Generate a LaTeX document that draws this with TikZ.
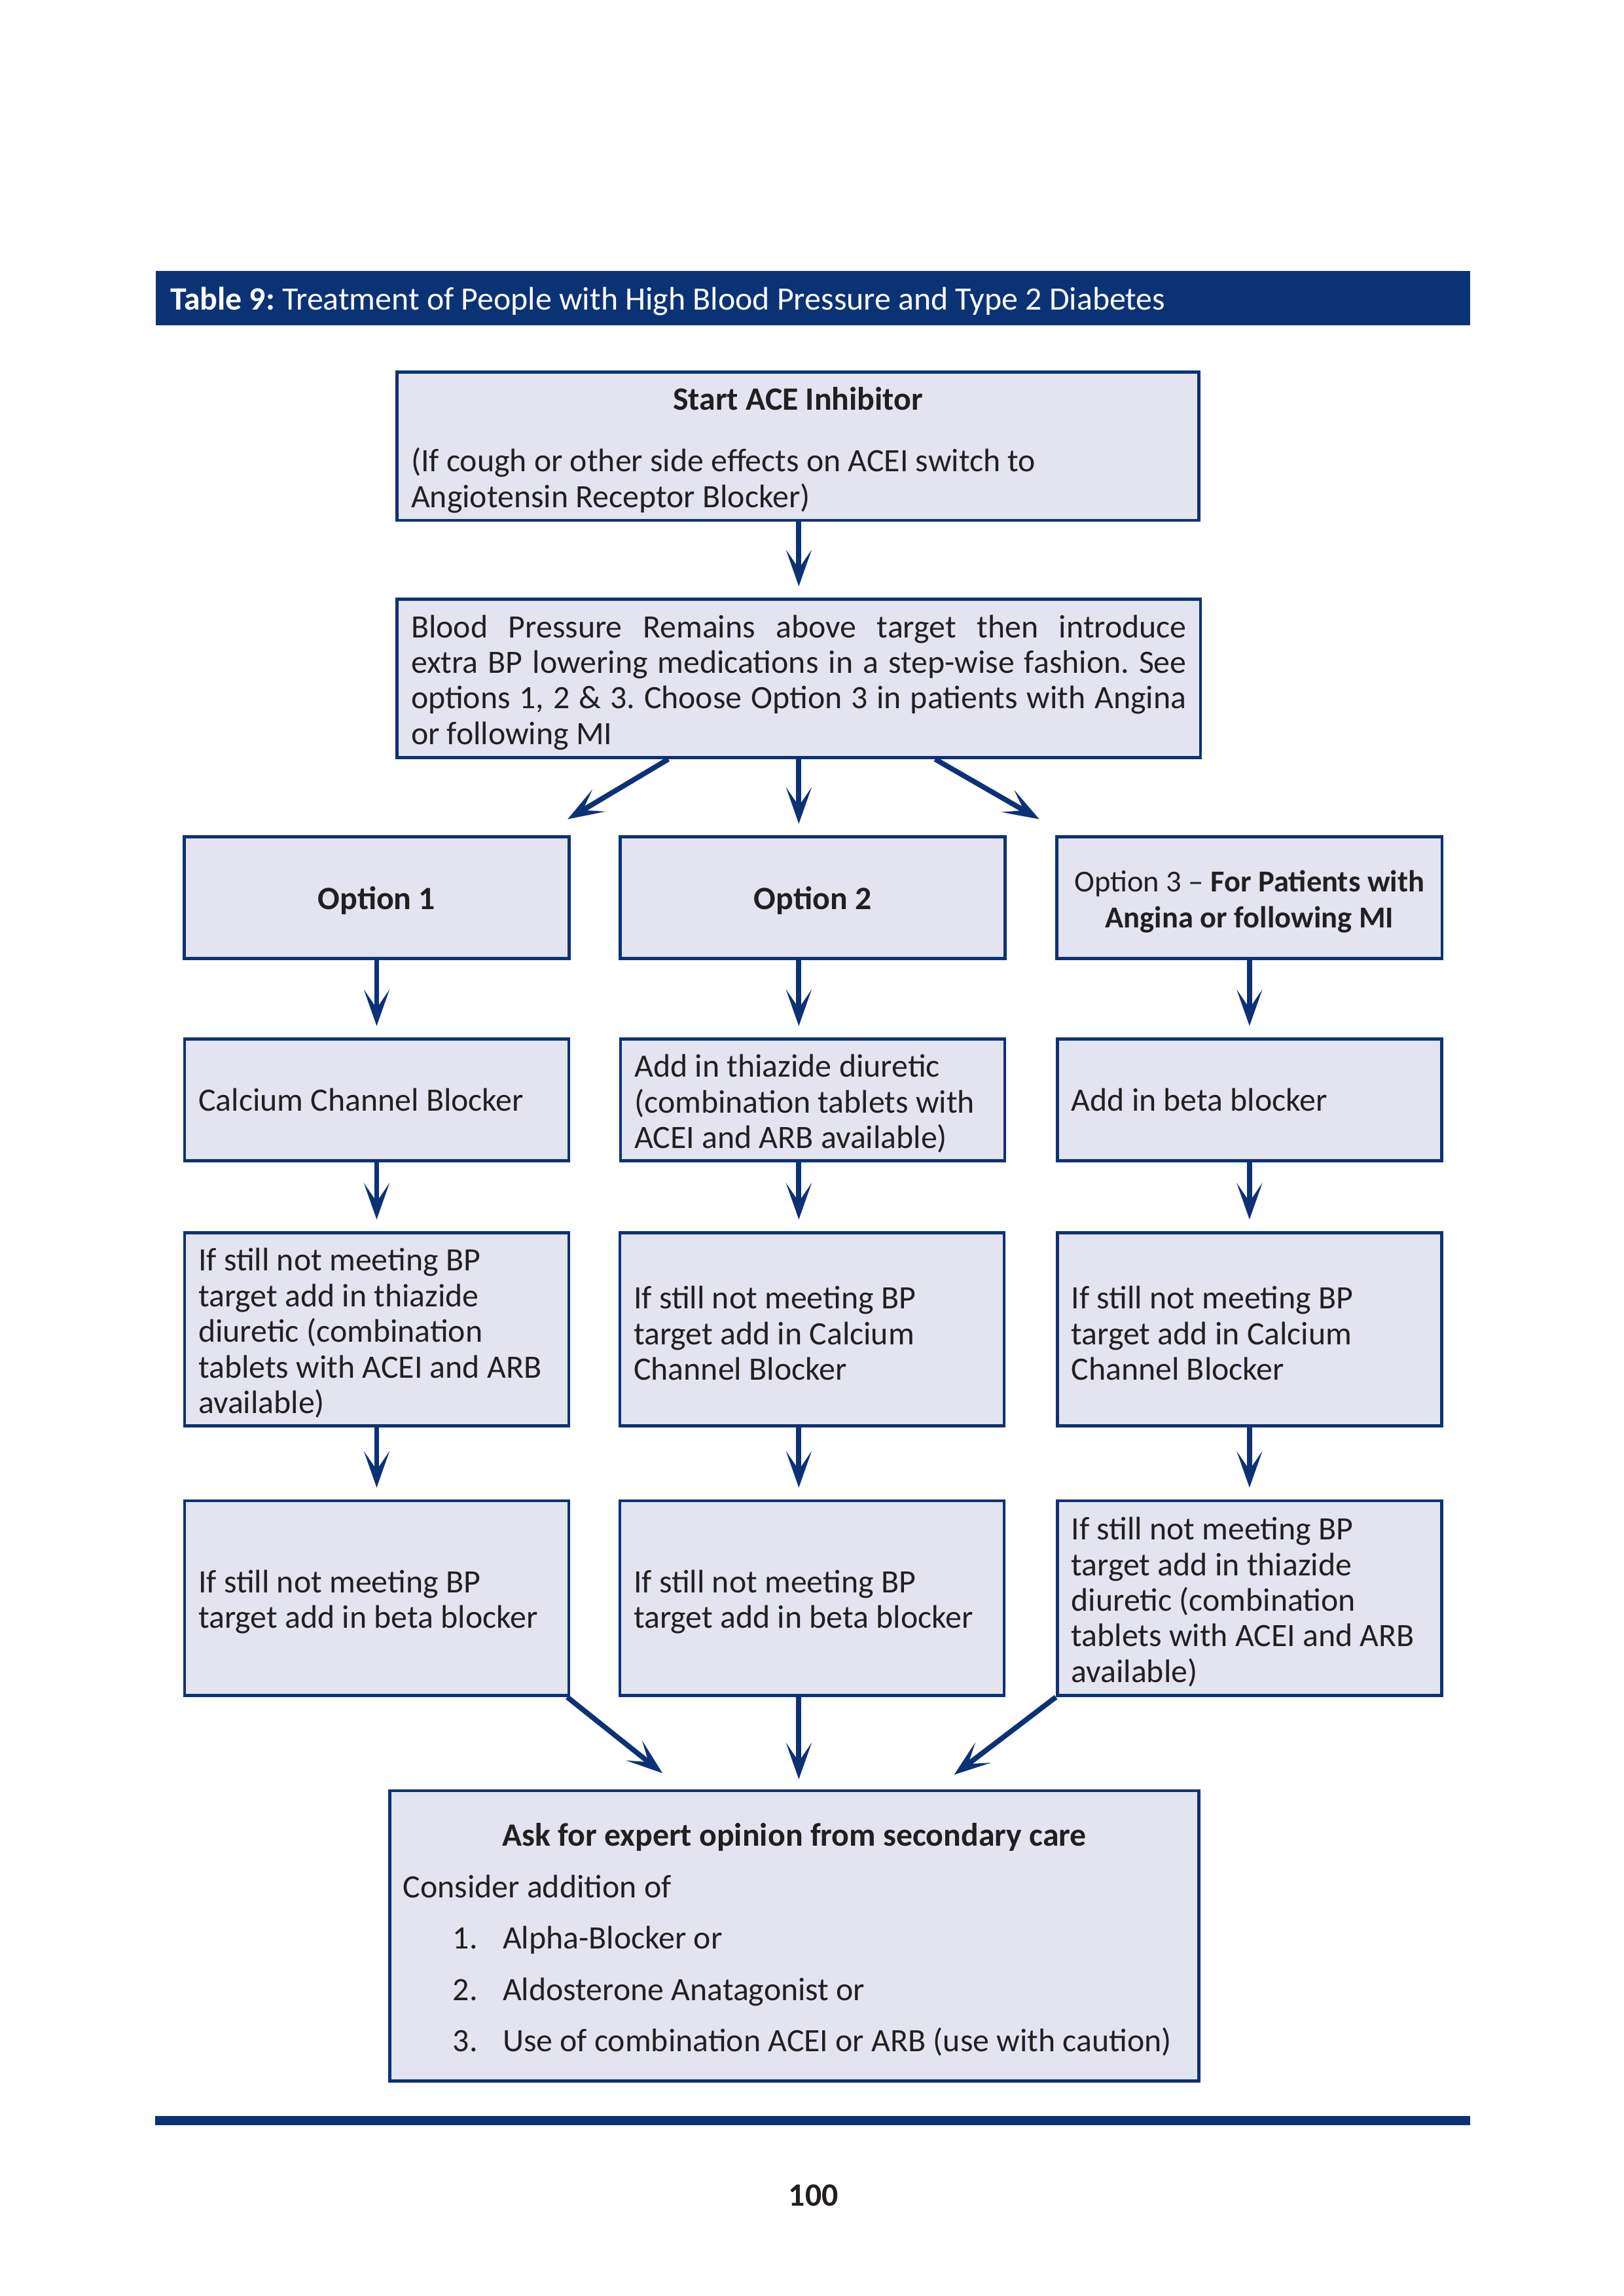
\documentclass[tikz,border=0pt]{standalone}
\usepackage{fontspec}
\setmainfont{Carlito}
\usetikzlibrary{arrows.meta,calc}
\definecolor{navy}{HTML}{0C3276}
\definecolor{boxfill}{HTML}{E3E4F0}
\definecolor{ink}{HTML}{231F20}
\setlength{\parindent}{0pt}
\frenchspacing
\newcommand{\mynatsp}{\spaceskip=0pt\xspaceskip=0pt\relax}
\newcommand{\mybxend}{\par\kern-0.1cm\relax}
\begin{document}
\begin{tikzpicture}[x=1cm,y=-1cm,
  natsp/.style={execute at begin node={\mynatsp},
    execute at end node={\mybxend}},
  box/.style={draw=navy, line width=1.1pt, fill=boxfill, text=ink, inner xsep=0.18cm, inner ysep=0pt,
    font=\fontsize{12}{13.1}\selectfont, align=left, natsp},
  colbox/.style={box, text width=4.61cm},
  optbox/.style={box, inner xsep=0.05cm, text width=4.88cm, minimum width=4.98cm, minimum height=1.574cm,
    execute at begin node={\centering}},
  arr/.style={draw=navy, line width=1.9pt, -{Stealth[length=0.47cm,width=0.33cm,inset=0.24cm]}, shorten >=0.15cm},
  darr/.style={arr, shorten >=0pt}]
\useasboundingbox (0,0) rectangle (21,29.7);
% header
\node[fill=navy, text=white, inner xsep=0.19cm, inner ysep=0pt, text width=16.62cm, minimum height=0.701cm,
  align=left, natsp, font=\fontsize{12}{13.1}\selectfont] (hdr) at (10.512,3.858)
  {\textbf{Table 9:} Treatment of People with High Blood Pressure and Type 2 Diabetes};
% top boxes
\node[box, text width=10.01cm, minimum height=1.914cm] (A) at (10.322,5.772)
  {{\centering\textbf{Start ACE Inhibitor}\par}\vspace{9.6pt}(If cough or other side effects on ACEI switch to\\Angiotensin Receptor Blocker)};
\node[box, text width=10.03cm, minimum height=2.048cm] (B) at (10.332,8.777)
  {\makebox[10.03cm][s]{Blood Pressure Remains above target then introduce}\\
   \makebox[10.03cm][s]{extra BP lowering medications in a step-wise fashion. See}\\
   \makebox[10.03cm][s]{options 1, 2 \& 3. Choose Option 3 in patients with Angina}\\
   or following MI};
% row 1
\node[optbox] (o1) at (4.872,11.612) {\textbf{Option 1}};
\node[optbox] (o2) at (10.512,11.612) {\textbf{Option 2}};
\node[optbox, font=\fontsize{11.2}{13.4}\selectfont] (o3) at (16.161,11.612)
  {\mbox{Option 3 -- \textbf{For Patients with}}\\\mbox{\textbf{Angina or following MI}}};
% row 2
\node[colbox, minimum height=1.574cm] (c1) at (4.872,14.228) {Calcium Channel Blocker};
\node[colbox, minimum height=1.574cm] (c2) at (10.512,14.228)
  {Add in thiazide diuretic\\(combination tablets with\\ACEI and ARB available)};
\node[colbox, minimum height=1.574cm] (c3) at (16.161,14.228) {Add in beta blocker};
% row 3
\node[colbox, minimum height=2.502cm] (d1) at (4.872,17.195)
  {If still not meeting BP\\target add in thiazide\\diuretic (combination\\tablets with ACEI and ARB\\available)};
\node[colbox, minimum height=2.502cm] (d2) at (10.502,17.195)
  {If still not meeting BP\\target add in Calcium\\Channel Blocker};
\node[colbox, minimum height=2.502cm] (d3) at (16.161,17.195)
  {If still not meeting BP\\target add in Calcium\\Channel Blocker};
% row 4
\node[colbox, minimum height=2.521cm] (e1) at (4.872,20.673)
  {If still not meeting BP\\target add in beta blocker};
\node[colbox, minimum height=2.521cm] (e2) at (10.502,20.673)
  {If still not meeting BP\\target add in beta blocker};
\node[colbox, minimum height=2.521cm] (e3) at (16.161,20.673)
  {If still not meeting BP\\target add in thiazide\\diuretic (combination\\tablets with ACEI and ARB\\available)};
% final
\node[box, inner xsep=0.17cm, text width=10.125cm, minimum height=3.754cm,
  font=\fontsize{12}{18.9}\selectfont] (F) at (10.275,25.042)
  {{\centering\textbf{Ask for expert opinion from secondary care}\par}
   Consider addition of\par
   \hspace*{0.645cm}\makebox[0.645cm][l]{1.}Alpha-Blocker or\par
   \hspace*{0.645cm}\makebox[0.645cm][l]{2.}Aldosterone Anatagonist or\par
   \hspace*{0.645cm}\makebox[0.645cm][l]{3.}Use of combination ACEI or ARB (use with caution)};
% footer
\fill[navy] (2.010,27.375) rectangle (19.014,27.489);
\node[text=ink, font=\fontsize{12}{13.1}\selectfont\bfseries] (pg) at (10.522,28.398) {100};
% arrows
\draw[arr] (B.north |- A.south) -- (B.north);
\coordinate (t1) at ($(o1.north east)+(-0.04,-0.209)$);
\coordinate (t3) at ($(o3.north west)+(-0.209,-0.209)$);
\draw[darr] ($(B.south)+(-1.688,0)$) -- (t1);
\draw[arr] (B.south) -- (o2.north -| B.south);
\draw[darr] ($(B.south)+(1.763,0)$) -- (t3);
\draw[arr] (o1.south) -- (c1.north);
\draw[arr] (o2.south -| B.south) -- (c2.north -| B.south);
\draw[arr] (o3.south) -- (c3.north);
\draw[arr] (c1.south) -- (d1.north);
\draw[arr] (c2.south -| B.south) -- (d2.north -| B.south);
\draw[arr] (c3.south) -- (d3.north);
\draw[arr] (d1.south) -- (e1.north);
\draw[arr] (d2.south -| B.south) -- (e2.north -| B.south);
\draw[arr] (d3.south) -- (e3.north);
\coordinate (f1) at ($(F.north)+(-1.706,-0.209)$);
\coordinate (f3) at ($(F.north)+(2.065,-0.189)$);
\draw[darr] ($(e1.south east)+(-0.04,0)$) -- (f1);
\draw[arr, shorten >=0.13cm] (e2.south -| B.south) -- (F.north -| B.south);
\draw[darr] (e3.south west) -- (f3);
\end{tikzpicture}
\end{document}
